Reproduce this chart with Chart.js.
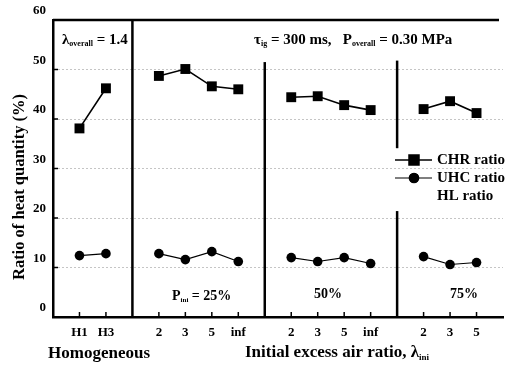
<!DOCTYPE html>
<html>
<head>
<meta charset="utf-8">
<script src="https://cdn.jsdelivr.net/npm/chart.js@4/dist/chart.umd.min.js"></script>
<style>
html,body{margin:0;padding:0;background:#fff;}
#wrap{width:511px;height:369px;position:relative;}
</style>
</head>
<body>
<div id="wrap"><canvas id="c" width="511" height="369"></canvas></div>
<script>
// ---- data ----
const categories = ['', 'H1', 'H3', '', '2', '3', '5', 'inf', '', '2', '3', '5', 'inf', '', '2', '3', '5', ''];
const chrRatio = [null, 38.1, 46.2, null, 48.7, 50.1, 46.6, 46.0, null, 44.4, 44.6, 42.8, 41.8, null, 42.0, 43.6, 41.2, null];
const uhcRatio = [null, 12.4, 12.8, null, 12.8, 11.6, 13.2, 11.2, null, 12.0, 11.2, 12.0, 10.8, null, 12.2, 10.6, 11.0, null];
const hlRatio = categories.map(() => null);
const yTicks = [0, 10, 20, 30, 40, 50, 60];
const separators = [3, 8, 13];

const SERIF = '"Liberation Serif", "DejaVu Serif", serif';

function txt(ctx, parts, x, y, align) {
  let w = 0;
  parts.forEach(p => { ctx.font = 'bold ' + p[1] + 'px ' + SERIF; w += ctx.measureText(p[0]).width; });
  let cx = align === 'center' ? x - w / 2 : x;
  ctx.textAlign = 'left';
  ctx.textBaseline = 'middle';
  parts.forEach(p => {
    ctx.font = 'bold ' + p[1] + 'px ' + SERIF;
    ctx.fillText(p[0], cx, y + (p[2] || 0));
    cx += ctx.measureText(p[0]).width;
  });
}

const decor = {
  id: 'decor',
  beforeDatasetsDraw(chart) {
    const ctx = chart.ctx, xs = chart.scales.x, ys = chart.scales.y, ca = chart.chartArea;
    ctx.save();
    ctx.setLineDash([]);
    ctx.strokeStyle = '#000';
    ctx.lineWidth = 2.5;
    ctx.beginPath(); ctx.moveTo(ca.left, ca.top); ctx.lineTo(ca.right - 4, ca.top); ctx.stroke();
    const segs = [[[0, 60]], [[0, 51.5]], [[0, 21.4], [34.1, 51.8]]];
    separators.forEach((idx, i) => {
      const x = xs.getPixelForValue(idx);
      segs[i].forEach(s => {
        ctx.beginPath(); ctx.moveTo(x, ys.getPixelForValue(s[0])); ctx.lineTo(x, ys.getPixelForValue(s[1])); ctx.stroke();
      });
    });
    ctx.lineWidth = 1.5;
    categories.forEach((c, i) => {
      if (!c) return;
      const x = xs.getPixelForValue(i);
      ctx.beginPath(); ctx.moveTo(x, ca.bottom); ctx.lineTo(x, ca.bottom - 5); ctx.stroke();
    });
    yTicks.forEach(v => {
      if (v === 0 || v === 60) return;
      const y = ys.getPixelForValue(v);
      ctx.beginPath(); ctx.moveTo(ca.left, y); ctx.lineTo(ca.left + 5, y); ctx.stroke();
    });
    ctx.restore();
  },
  afterDraw(chart) {
    const ctx = chart.ctx;
    ctx.save();
    ctx.fillStyle = '#000';
    txt(ctx, [['λ', 15], ['overall', 8, 4], [' = 1.4', 15]], 62, 40, 'left');
    txt(ctx, [['τ', 15], ['ig', 8, 4], [' = 300 ms,   P', 15], ['overall', 8, 4], [' = 0.30 MPa', 15]], 254, 40, 'left');
    txt(ctx, [['P', 14], ['ini', 7, 4], [' = 25%', 14]], 172, 296, 'left');
    txt(ctx, [['50%', 14]], 328, 294, 'center');
    txt(ctx, [['75%', 14]], 464, 294, 'center');
    txt(ctx, [['Homogeneous', 17]], 99, 354, 'center');
    txt(ctx, [['Initial excess air ratio, λ', 17], ['ini', 9, 5]], 337, 353, 'center');
    ctx.save();
    ctx.translate(20, 187);
    ctx.rotate(-Math.PI / 2);
    txt(ctx, [['Ratio of heat quantity (%)', 16.5]], 0, 0, 'center');
    ctx.restore();
    const ds = chart.data.datasets;
    const items = [[ds[0], 160], [ds[1], 178], [ds[2], 196]];
    items.forEach(([d, y]) => {
      if (d.pointStyle) {
        ctx.strokeStyle = '#000';
        ctx.lineWidth = d.borderWidth;
        ctx.beginPath(); ctx.moveTo(395, y); ctx.lineTo(432, y); ctx.stroke();
        Chart.helpers.drawPoint(ctx, { pointStyle: d.pointStyle, radius: d.pointRadius, borderWidth: 1 }, 414, y);
        ctx.fill();
      }
      txt(ctx, [[d.label, 15]], 437, y, 'left');
    });
    ctx.restore();
  }
};

new Chart(document.getElementById('c'), {
  type: 'line',
  data: {
    labels: categories,
    datasets: [
      { label: 'CHR ratio', data: chrRatio, borderColor: '#000', backgroundColor: '#000', borderWidth: 1.6,
        pointStyle: 'rect', pointRadius: 7, pointBorderWidth: 0, spanGaps: false },
      { label: 'UHC ratio', data: uhcRatio, borderColor: '#000', backgroundColor: '#000', borderWidth: 1.1,
        pointStyle: 'circle', pointRadius: 4.8, pointBorderWidth: 0, spanGaps: false },
      { label: 'HL ratio', data: hlRatio, borderColor: '#000', backgroundColor: '#000', borderWidth: 1,
        pointStyle: false, pointRadius: 0, spanGaps: false }
    ]
  },
  options: {
    responsive: false,
    animation: false,
    layout: { padding: { top: 20, right: 0, left: 0, bottom: 0 } },
    plugins: { legend: { display: false }, tooltip: { enabled: false } },
    scales: {
      x: {
        type: 'category',
        offset: false,
        afterFit(s) { s.height = 52; },
        border: { color: '#000', width: 2.5 },
        grid: { display: false, drawTicks: false },
        ticks: { autoSkip: false, maxRotation: 0, padding: 8, color: '#000',
                 font: { family: SERIF, size: 13, weight: 'bold' } }
      },
      y: {
        min: 0, max: 60,
        afterFit(s) { s.width = 53; },
        afterBuildTicks(s) { s.ticks = yTicks.map(v => ({ value: v })); },
        border: { color: '#000', width: 2.5, dash: [1, 3] },
        grid: { drawTicks: false, lineWidth: 1,
                color: c => (c.tick && (c.tick.value === 0 || c.tick.value === 60)) ? 'rgba(0,0,0,0)' : '#8a8a8a' },
        ticks: { padding: 7, labelOffset: -9, color: '#000',
                 font: { family: SERIF, size: 13, weight: 'bold' } }
      }
    }
  },
  plugins: [decor]
});
</script>
</body>
</html>
